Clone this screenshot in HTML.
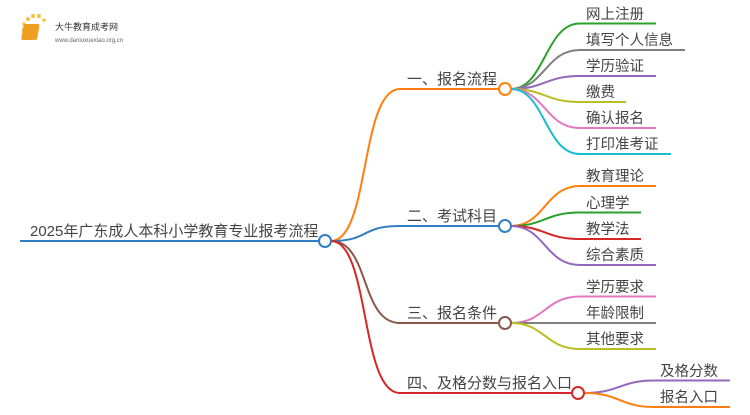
<!DOCTYPE html>
<html><head><meta charset="utf-8"><style>
body{margin:0;background:#fff;width:750px;height:410px;overflow:hidden}
text{font-family:"Liberation Sans","Noto Sans CJK SC",sans-serif;fill:#444}
</style></head><body>
<svg width="750" height="410" viewBox="0 0 750 410" xmlns="http://www.w3.org/2000/svg">
<g fill="none" stroke-width="2">
<path d="M20 241H319" stroke="#2f7fc1"/>
<path d="M331 241C370 241 360 89 400 89H499" stroke="#ff7f0e"/>
<path d="M331 241C370 241 360 226 400 226H499" stroke="#2f7fc1"/>
<path d="M331 241C370 241 360 323 400 323H499" stroke="#8c564b"/>
<path d="M331 241C370 241 360 393 400 393H572" stroke="#d62728"/>
<path d="M511 89C545 89 545 23.5 580 23.5H656" stroke="#2ca02c"/>
<path d="M511 89C545 89 545 50 580 50H685" stroke="#7f7f7f"/>
<path d="M511 89C545 89 545 76 580 76H656" stroke="#9467bd"/>
<path d="M511 89C545 89 545 102 580 102H626" stroke="#bcbd22"/>
<path d="M511 89C545 89 545 128 580 128H656" stroke="#e377c2"/>
<path d="M511 89C545 89 545 154 580 154H671" stroke="#17becf"/>
<path d="M511 226C545 226 545 186 580 186H656" stroke="#ff7f0e"/>
<path d="M511 226C545 226 545 212.5 580 212.5H641" stroke="#2ca02c"/>
<path d="M511 226C545 226 545 239 580 239H641" stroke="#d62728"/>
<path d="M511 226C545 226 545 265 580 265H656" stroke="#9467bd"/>
<path d="M511 323C545 323 545 296.5 580 296.5H656" stroke="#e377c2"/>
<path d="M511 323H656" stroke="#7f7f7f"/>
<path d="M511 323C545 323 545 349 580 349H656" stroke="#bcbd22"/>
<path d="M584 393C620 393 620 380.5 654 380.5H730" stroke="#9467bd"/>
<path d="M584 393C620 393 620 407 654 407H730" stroke="#ff7f0e"/>
</g>
<g fill="#fff" stroke-width="2">
<circle cx="325" cy="241" r="6" stroke="#2f7fc1"/>
<circle cx="505" cy="89" r="6" stroke="#ff7f0e"/>
<circle cx="505" cy="226" r="6" stroke="#2f7fc1"/>
<circle cx="505" cy="323" r="6" stroke="#8c564b"/>
<circle cx="578" cy="393" r="6" stroke="#d62728"/>
</g>
<text x="30" y="236" font-size="15">2025年广东成人本科小学教育专业报考流程</text>
<g font-size="15">
<text x="407" y="84">一、报名流程</text>
<text x="407" y="221">二、考试科目</text>
<text x="407" y="318">三、报名条件</text>
<text x="407" y="388">四、及格分数与报名入口</text>
</g>
<g font-size="14.5">
<text x="586" y="19">网上注册</text>
<text x="586" y="45">填写个人信息</text>
<text x="586" y="71">学历验证</text>
<text x="586" y="97">缴费</text>
<text x="586" y="123">确认报名</text>
<text x="586" y="149">打印准考证</text>
<text x="586" y="181">教育理论</text>
<text x="586" y="208">心理学</text>
<text x="586" y="234">教学法</text>
<text x="586" y="260">综合素质</text>
<text x="586" y="292">学历要求</text>
<text x="586" y="318">年龄限制</text>
<text x="586" y="344">其他要求</text>
<text x="660" y="376">及格分数</text>
<text x="660" y="402">报名入口</text>
</g>
<g>
<circle cx="23" cy="30" r="1.5" fill="#f5c242"/><circle cx="24" cy="24" r="1.8" fill="#f5c242"/>
<circle cx="28" cy="19" r="2" fill="#f5c242"/><circle cx="33" cy="16" r="2" fill="#f5c242"/>
<circle cx="39" cy="16" r="2" fill="#f5c242"/><circle cx="44" cy="20" r="1.8" fill="#f5c242"/>
<rect x="28" y="24" width="16" height="16" rx="2" fill="#f0a020" transform="skewX(-10)"/>
<text x="55" y="30" font-size="9" style="fill:#333">大牛教育成考网</text>
<text x="55" y="42" font-size="6" style="fill:#666">www.daniuxuexiao.org.cn</text>
</g>
</svg>
</body></html>
